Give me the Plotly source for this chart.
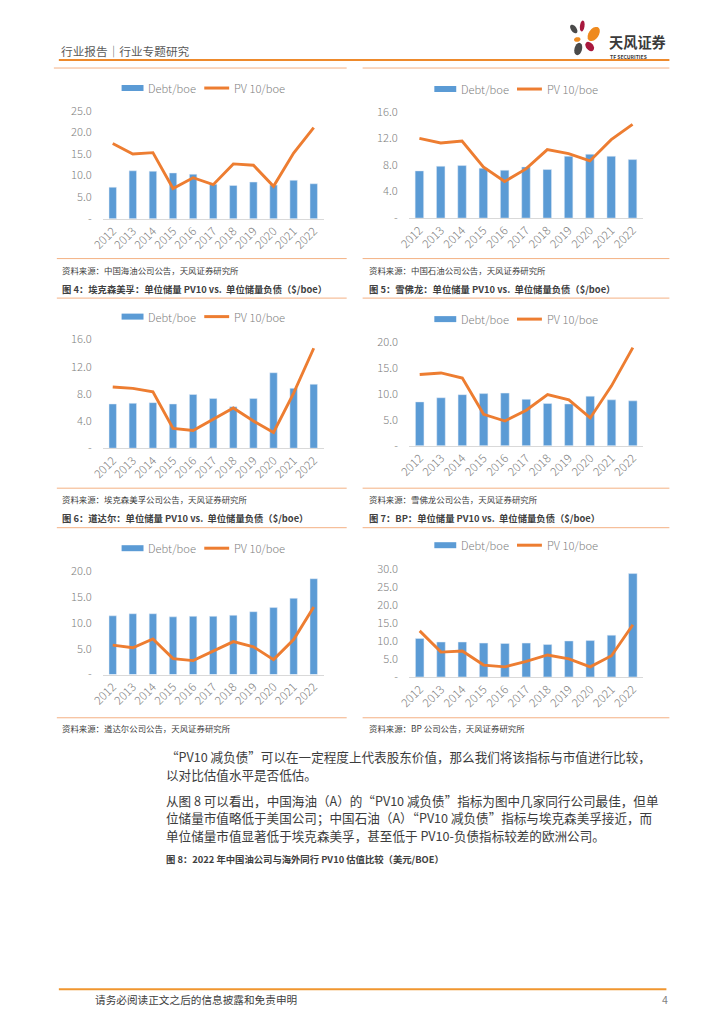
import math
import plotly.graph_objects as go

# ---------------- data ----------------
years = ["2012", "2013", "2014", "2015", "2016", "2017", "2018", "2019", "2020", "2021", "2022"]

cnooc_debt = [7.3, 11.1, 11.0, 10.6, 10.3, 8.0, 7.7, 8.5, 7.8, 8.9, 8.1]
cnooc_pv10 = [17.4, 15.0, 15.3, 7.0, 9.5, 7.9, 12.7, 12.4, 7.5, 15.2, 21.1]

petro_debt = [7.1, 7.8, 7.9, 7.5, 7.2, 7.7, 7.3, 9.3, 9.6, 9.3, 8.8]
petro_pv10 = [12.0, 11.3, 11.6, 7.7, 5.5, 7.4, 10.3, 9.7, 8.6, 11.8, 14.1]

xom_debt = [6.5, 6.6, 6.7, 6.5, 7.9, 7.3, 6.1, 7.3, 11.1, 8.8, 9.4]
xom_pv10 = [9.0, 8.8, 8.3, 2.9, 2.6, 4.3, 5.9, 4.0, 2.3, 8.1, 14.7]

cvx_debt = [8.5, 9.3, 9.9, 10.1, 10.2, 9.0, 8.2, 8.1, 9.6, 8.9, 8.7]
cvx_pv10 = [13.8, 14.1, 13.1, 6.1, 4.8, 6.9, 9.9, 8.9, 5.4, 11.6, 19.0]

tte_debt = [11.4, 11.8, 11.8, 11.2, 11.3, 11.3, 11.5, 12.2, 13.0, 14.8, 18.6]
tte_pv10 = [5.7, 5.2, 6.9, 3.1, 2.7, 4.5, 6.4, 5.4, 2.9, 6.8, 13.1]

bp_debt = [10.7, 9.7, 9.7, 9.4, 9.3, 9.4, 9.0, 10.0, 10.1, 11.6, 28.7]
bp_pv10 = [12.8, 6.9, 7.2, 3.3, 2.8, 4.3, 6.1, 5.0, 2.8, 5.9, 14.5]

ticks_25 = [0, 5, 10, 15, 20, 25]
ticklab_25 = ["-", "5.0", "10.0", "15.0", "20.0", "25.0"]
ticks_16 = [0, 4, 8, 12, 16]
ticklab_16 = ["-", "4.0", "8.0", "12.0", "16.0"]
ticks_20 = [0, 5, 10, 15, 20]
ticklab_20 = ["-", "5.0", "10.0", "15.0", "20.0"]
ticks_30 = [0, 5, 10, 15, 20, 25, 30]
ticklab_30 = ["-", "5.0", "10.0", "15.0", "20.0", "25.0", "30.0"]

series_names = ["Debt/boe", "PV 10/boe"]

sources = [
    "资料来源：中国海油公司公告，天风证券研究所",
    "资料来源：中国石油公司公告，天风证券研究所",
    "资料来源：埃克森美孚公司公告，天风证券研究所",
    "资料来源：雪佛龙公司公告，天风证券研究所",
    "资料来源：道达尔公司公告，天风证券研究所",
    "资料来源：BP 公司公告，天风证券研究所",
]
captions = [
    "图 4：埃克森美孚：单位储量 PV10 vs.  单位储量负债（$/boe）",
    "图 5：雪佛龙：单位储量 PV10 vs.  单位储量负债（$/boe）",
    "图 6：道达尔：单位储量 PV10 vs.  单位储量负债（$/boe）",
    "图 7：BP：单位储量 PV10 vs.  单位储量负债（$/boe）",
]

# ---------------- page geometry ----------------
W, H = 724, 1024
# the photographed page shows the figure slightly offset and scaled; compensate
SX, BX = 0.986, 19.0
SY, BY = 0.984, 17.0
FS = 1 / 0.985
BLUE = "#5b9bd5"
ORANGE = "#ed7d31"
TICK_GRAY = "#7f7f7f"
CJK = "Noto Sans CJK SC"


def px(x):
    return ((x - BX) / SX) / W


def py(y):
    return 1 - ((y - BY) / SY) / H


charts = [
    dict(debt=cnooc_debt, pv=cnooc_pv10, x=(101, 323), y=(110.7, 218.7), ymax=25,
         tv=ticks_25, tt=ticklab_25, bw=0.37, leg=(120, 88)),
    dict(debt=petro_debt, pv=petro_pv10, x=(408.3, 643.7), y=(111.7, 218), ymax=16,
         tv=ticks_16, tt=ticklab_16, bw=0.4, leg=(434, 89)),
    dict(debt=xom_debt, pv=xom_pv10, x=(101, 323), y=(339.3, 448), ymax=16,
         tv=ticks_16, tt=ticklab_16, bw=0.37, leg=(120, 316.5)),
    dict(debt=cvx_debt, pv=cvx_pv10, x=(408.6, 644), y=(342.3, 445.7), ymax=20,
         tv=ticks_20, tt=ticklab_20, bw=0.4, leg=(434, 319)),
    dict(debt=tte_debt, pv=tte_pv10, x=(101, 323), y=(571.3, 674.3), ymax=20,
         tv=ticks_20, tt=ticklab_20, bw=0.37, leg=(120, 548)),
    dict(debt=bp_debt, pv=bp_pv10, x=(408.6, 644), y=(568.7, 676.7), ymax=30,
         tv=ticks_30, tt=ticklab_30, bw=0.4, leg=(434, 545)),
]

fig = go.Figure()
layout = dict(
    width=W, height=H, margin=dict(l=0, r=0, t=0, b=0, pad=0),
    paper_bgcolor="white", plot_bgcolor="white", showlegend=False,
    font=dict(family=CJK, color="#404040"),
)
shapes = []
annotations = []

for i, c in enumerate(charts):
    k = "" if i == 0 else str(i + 1)
    xa, ya = "x" + k, "y" + k
    fig.add_trace(go.Bar(x=years, y=c["debt"], name=series_names[0], marker_color=BLUE,
                         width=c["bw"], xaxis=xa, yaxis=ya))
    fig.add_trace(go.Scatter(x=years, y=c["pv"], name=series_names[1], mode="lines",
                             line=dict(color=ORANGE, width=2.9), xaxis=xa, yaxis=ya))
    layout["xaxis" + k] = dict(
        domain=[px(c["x"][0]), px(c["x"][1])], anchor=ya, type="category",
        showline=True, linecolor="#d9d9d9", linewidth=1, ticks="",
        tickangle=-45, tickfont=dict(size=11.5 * FS, color=TICK_GRAY, family=CJK, weight=300),
        showgrid=False, zeroline=False, fixedrange=True,
    )
    layout["yaxis" + k] = dict(
        domain=[py(c["y"][1]), py(c["y"][0])], anchor=xa, range=[0, c["ymax"]],
        tickvals=c["tv"], ticktext=c["tt"], showgrid=False, zeroline=False,
        showline=False, ticks="", ticklabelstandoff=10,
        tickfont=dict(size=11 * FS, color=TICK_GRAY, family=CJK, weight=300), fixedrange=True,
    )
    lx, ly = c["leg"]
    shapes.append(dict(type="rect", xref="paper", yref="paper", x0=px(lx), x1=px(lx + 22),
                       y0=py(ly + 3), y1=py(ly - 3), fillcolor=BLUE, line=dict(width=0)))
    annotations.append(dict(x=px(lx + 25), y=py(ly), xref="paper", yref="paper",
                            text=series_names[0], showarrow=False, xanchor="left", yanchor="middle",
                            font=dict(size=11 * FS, color=TICK_GRAY, family=CJK, weight=300)))
    shapes.append(dict(type="line", xref="paper", yref="paper", x0=px(lx + 83), x1=px(lx + 108),
                       y0=py(ly), y1=py(ly), line=dict(color=ORANGE, width=3)))
    annotations.append(dict(x=px(lx + 111), y=py(ly), xref="paper", yref="paper",
                            text=series_names[1], showarrow=False, xanchor="left", yanchor="middle",
                            font=dict(size=11 * FS, color=TICK_GRAY, family=CJK, weight=300)))

fig.update_layout(**layout)


def hline(x0, x1, y, color, width):
    shapes.append(dict(type="line", xref="paper", yref="paper", x0=px(x0), x1=px(x1),
                       y0=py(y), y1=py(y), line=dict(color=color, width=width)))


def text(x, y, s, size, color="#404040", anchor="left", bold=False):
    annotations.append(dict(x=px(x), y=py(y), xref="paper", yref="paper",
                            text=("<b>%s</b>" % s) if bold else s, showarrow=False,
                            xanchor=anchor, yanchor="middle", align="left",
                            font=dict(size=size * FS, color=color, family=CJK)))


LIGHT = "#f4b183"
text(57, 50, "行业报告｜行业专题研究", 11.5, "#595959")
hline(57, 670, 60, "#ee8a2c", 2)
hline(52, 346, 68, LIGHT, 1)
hline(362, 670, 68, LIGHT, 1)
text(607, 42, "天风证券", 14, "#3a3a3a", bold=True)
text(608, 56.5, "TF SECURITIES", 5, "#3a3a3a", bold=True)


def petal(cx, cy, rx, ry, ang, color):
    a = math.radians(ang)
    pts = []
    for t in range(0, 360, 20):
        r = math.radians(t)
        ex, ey = rx * math.cos(r), ry * math.sin(r)
        X = cx + ex * math.cos(a) - ey * math.sin(a)
        Y = cy + ex * math.sin(a) + ey * math.cos(a)
        pts.append((px(X), py(Y)))
    path = "M" + " L".join("%.5f,%.5f" % p for p in pts) + " Z"
    shapes.append(dict(type="path", xref="paper", yref="paper", path=path,
                       fillcolor=color, line=dict(width=0)))


petal(574, 29, 2.8, 5, -35, "#4a4a4a")
petal(582.5, 26, 2.3, 5.5, 8, "#a8183e")
petal(594, 34, 5, 8, 35, "#ef8a1e")
petal(577.5, 39.5, 3.3, 2.3, -10, "#ef8a1e")
petal(578.5, 49, 3.8, 6.3, 15, "#4a4a4a")
petal(590, 46.5, 3.6, 5.3, -40, "#a8183e")

rows = [(258.5, 269.5, 288.5, 298), (488, 498.5, 517.5, 527.5), (717.5, 727.5, None, None)]
for r, (l1, ys, yc, l2) in enumerate(rows):
    for col in range(2):
        x0, x1, tx = (55, 346, 58) if col == 0 else (362, 670, 366)
        hline(x0, x1, l1, LIGHT, 1)
        text(tx, ys, sources[r * 2 + col], 8.3, "#404040")
        if yc is not None:
            text(tx, yc, captions[r * 2 + col], 9.2, "#404040", bold=True)
            hline(x0, x1, l2, LIGHT, 1)

body_lines = [
    (756.5, "“PV10 减负债”可以在一定程度上代表股东价值，那么我们将该指标与市值进行比较，"),
    (774, "以对比估值水平是否低估。"),
    (800, "从图 8 可以看出，中国海油（A）的“PV10 减负债”指标为图中几家同行公司最佳，但单"),
    (817.5, "位储量市值略低于美国公司；中国石油（A）“PV10 减负债”指标与埃克森美孚接近，而"),
    (835, "单位储量市值显著低于埃克森美孚，甚至低于 PV10-负债指标较差的欧洲公司。"),
]
for yy, s in body_lines:
    text(163, yy, s, 12.4, "#3c3c3c")
text(163, 859, "图 8：2022 年中国油公司与海外同行 PV10 估值比较（美元/BOE）", 9.2, "#404040", bold=True)

hline(57, 667, 989, "#f0962f", 2)
text(91, 999.5, "请务必阅读正文之后的信息披露和免责申明", 10.5, "#404040")
text(671, 999.5, "4", 10.5, "#7f7f7f", anchor="right")

fig.update_layout(shapes=shapes, annotations=annotations)
fig.write_html("out.html")
